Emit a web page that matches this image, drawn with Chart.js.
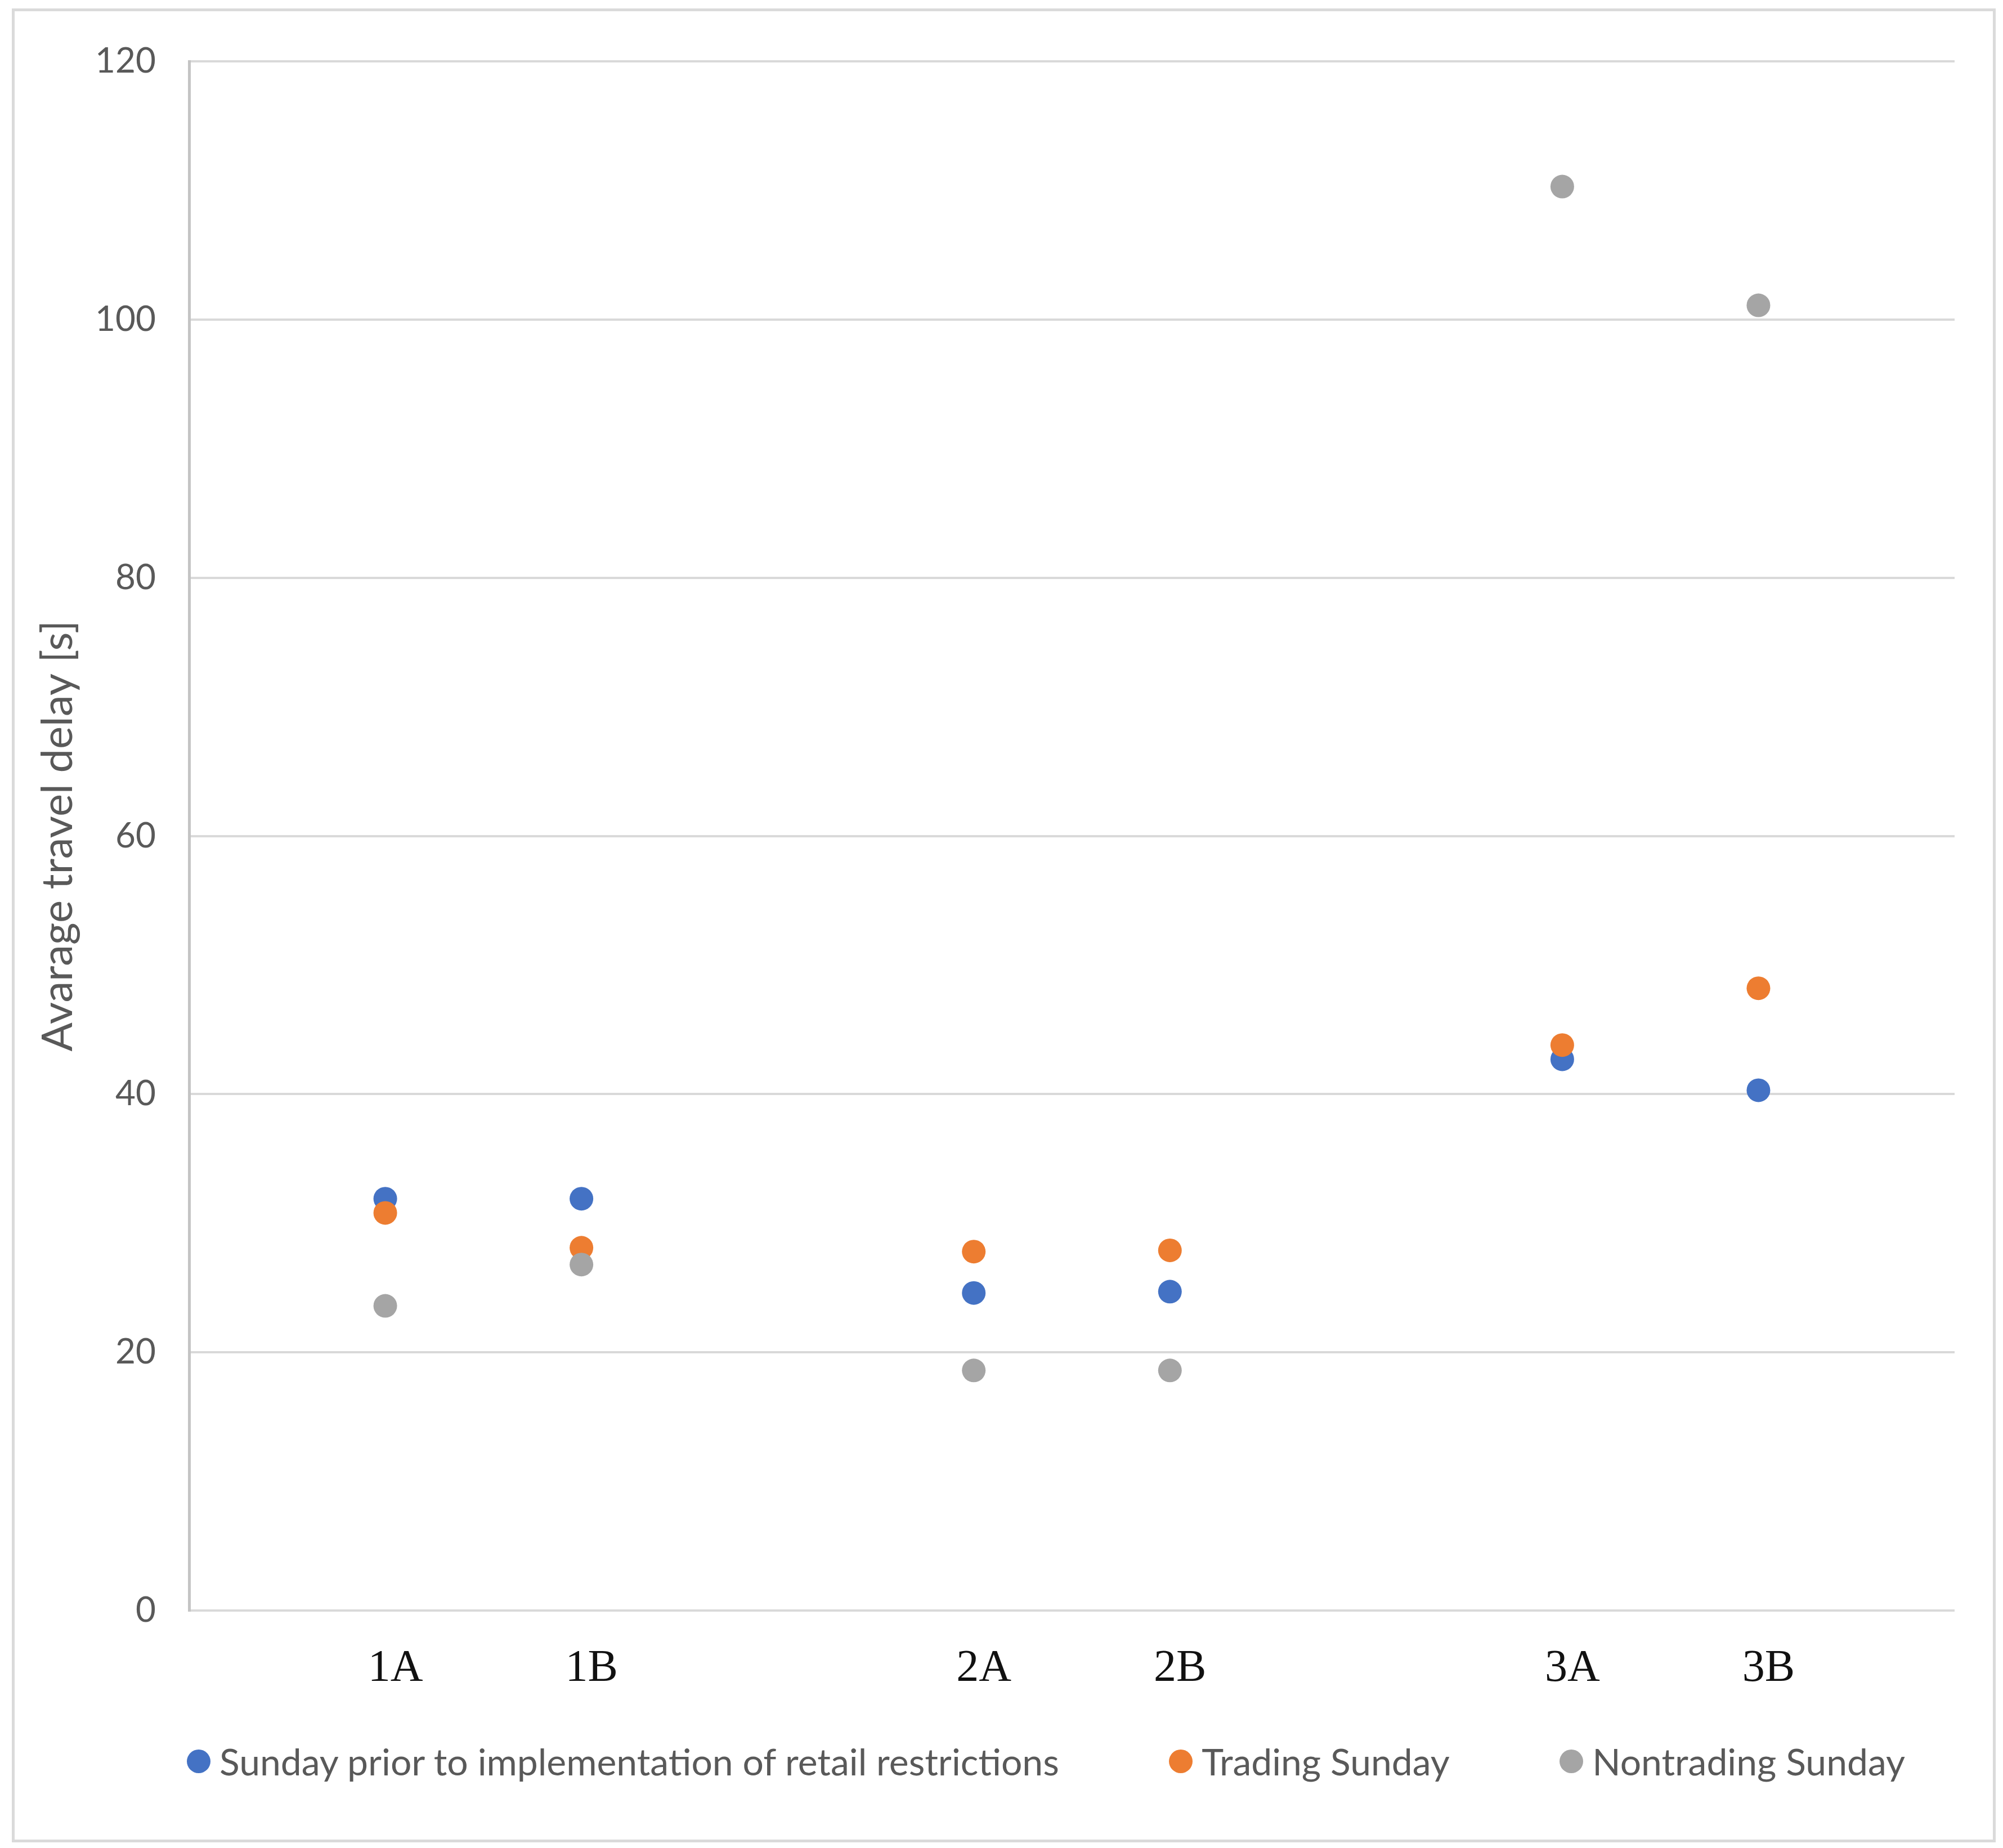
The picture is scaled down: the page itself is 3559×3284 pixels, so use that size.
<!DOCTYPE html>
<html>
<head>
<meta charset="utf-8">
<script src="https://cdn.jsdelivr.net/npm/chart.js@4.4.1/dist/chart.umd.min.js"></script>
<style>
  html, body { margin: 0; padding: 0; background: #ffffff; }
  body { width: 3559px; height: 3284px; position: relative; overflow: hidden; }
  #chart { position: absolute; left: 0; top: 0; }
  .frame {
    position: absolute; left: 21px; top: 15px; width: 3515px; height: 3249px;
    border: 5px solid #dadada; pointer-events: none;
  }
  .legend {
    position: absolute; left: 332px; width: 3053px; top: 3090px;
    display: flex; justify-content: space-between; align-items: center;
    font-family: Lato, 'Open Sans', sans-serif; font-size: 66px; color: #595959;
    line-height: 80px; white-space: nowrap;
  }
  .legend .item { display: flex; align-items: center; }
  .legend .dot { width: 42px; height: 42px; border-radius: 50%; margin-right: 16px; }
</style>
</head>
<body>
<canvas id="chart" width="3559" height="3284"></canvas>
<div class="frame"></div>
<div class="legend" id="legend"></div>

<script>
// categories (blank slots keep the gaps between the site groups)
const categories = ['', '1A', '1B', '', '2A', '2B', '', '3A', '3B', ''];

// average travel delay [s]
const priorSunday      = [null, 31.9, 31.9, null, 24.6, 24.7, null, 42.7, 40.3, null];
const tradingSunday    = [null, 30.8, 28.1, null, 27.8, 27.9, null, 43.8, 48.2, null];
const nontradingSunday = [null, 23.6, 26.8, null, 18.6, 18.6, null, 110.3, 101.1, null];

const seriesNames = [
  'Sunday prior to implementation of retail restrictions',
  'Trading Sunday',
  'Nontrading Sunday'
];

const yTicks = [0, 20, 40, 60, 80, 100, 120];

const colBlue = '#4472C4';
const colOrange = '#ED7D31';
const colGray = '#A5A5A5';
const fontSans = 'Lato, "Open Sans", sans-serif';

function makeSet(label, data, color, order) {
  return {
    label: label,
    data: data,
    showLine: false,
    pointRadius: 21,
    pointHoverRadius: 21,
    pointBorderWidth: 0,
    pointBackgroundColor: color,
    borderColor: color,
    backgroundColor: color,
    order: order
  };
}

const ctx = document.getElementById('chart').getContext('2d');

new Chart(ctx, {
  type: 'line',
  data: {
    labels: categories,
    datasets: [
      makeSet(seriesNames[0], priorSunday, colBlue, 3),
      makeSet(seriesNames[1], tradingSunday, colOrange, 2),
      makeSet(seriesNames[2], nontradingSunday, colGray, 1)
    ]
  },
  options: {
    responsive: false,
    animation: false,
    devicePixelRatio: 1,
    layout: { padding: { left: 0, right: 86, top: 109, bottom: 214 } },
    plugins: {
      legend: { display: false },
      tooltip: { enabled: false }
    },
    scales: {
      x: {
        type: 'category',
        offset: false,
        grid: { display: false, drawTicks: false },
        border: { display: false },
        ticks: {
          autoSkip: false,
          maxRotation: 0,
          minRotation: 0,
          padding: 56,
          labelOffset: 18,
          color: '#111111',
          font: { family: '"Liberation Serif", "Times New Roman", serif', size: 80 }
        }
      },
      y: {
        min: 0,
        max: 120,
        afterFit: (scale) => { scale.width = 336; },
        afterBuildTicks: (scale) => { scale.ticks = yTicks.map(v => ({ value: v })); },
        grid: { color: '#d9d9d9', lineWidth: 4, drawTicks: false },
        border: { display: true, color: '#c4c4c4', width: 5 },
        ticks: {
          padding: 59,
          color: '#595959',
          font: { family: fontSans, size: 62 }
        },
        title: {
          display: true,
          text: 'Avarage travel delay [s]',
          color: '#595959',
          padding: { top: 58, bottom: 0 },
          font: { family: fontSans, size: 76 }
        }
      }
    }
  }
});

// legend as real text below the chart
const legendEl = document.getElementById('legend');
const legendColors = [colBlue, colOrange, colGray];
seriesNames.forEach((name, i) => {
  const item = document.createElement('div');
  item.className = 'item';
  const dot = document.createElement('span');
  dot.className = 'dot';
  dot.style.background = legendColors[i];
  const txt = document.createElement('span');
  txt.textContent = name;
  item.appendChild(dot);
  item.appendChild(txt);
  legendEl.appendChild(item);
});
</script>
</body>
</html>
